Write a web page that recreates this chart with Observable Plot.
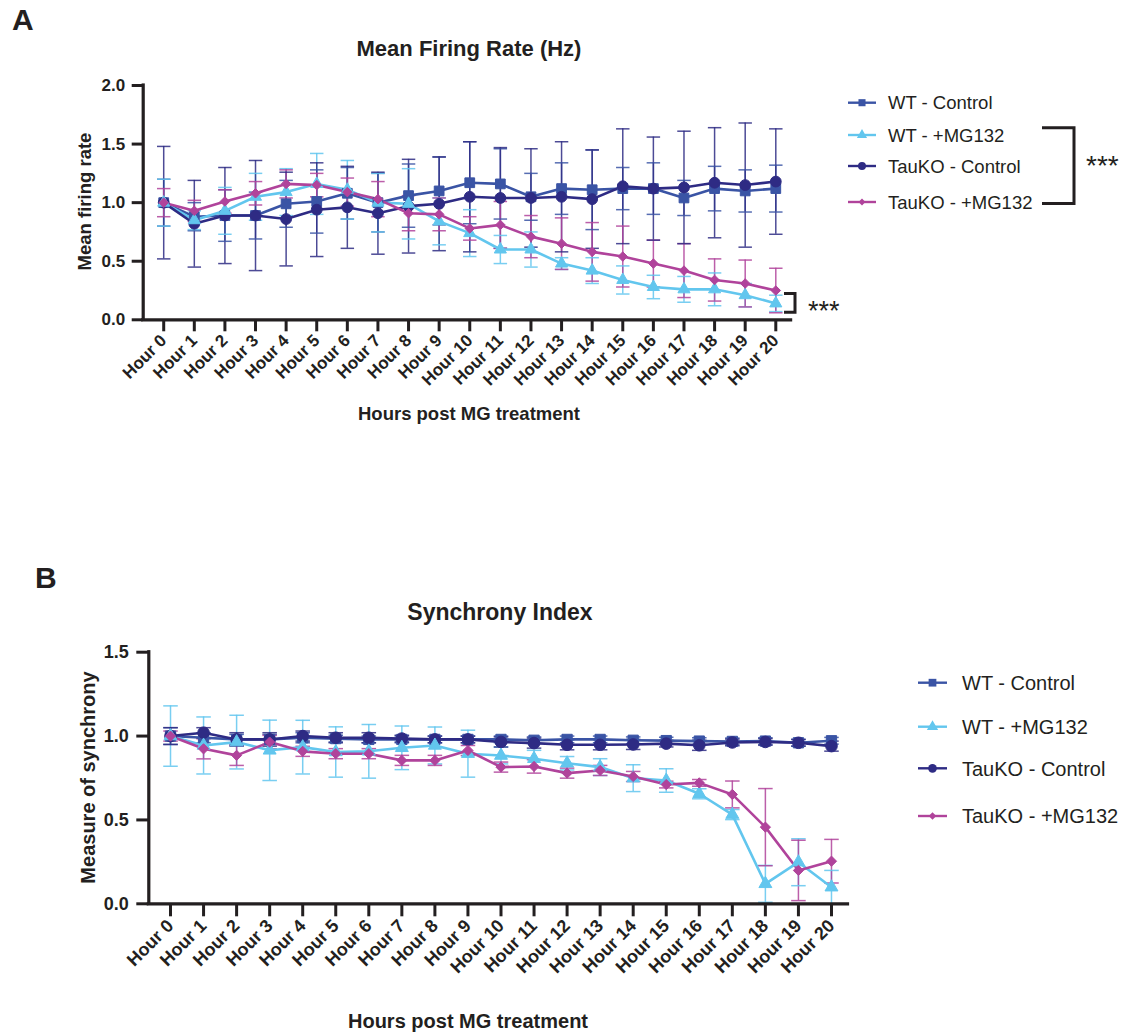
<!DOCTYPE html>
<html>
<head>
<meta charset="utf-8">
<script src="https://cdn.jsdelivr.net/npm/d3@7"></script>
<script src="https://cdn.jsdelivr.net/npm/@observablehq/plot@0.6"></script>
<style>
  body { margin: 0; background: #ffffff; }
  #root { position: relative; width: 1129px; height: 1034px; overflow: hidden; background: #ffffff;
          font-family: "Liberation Sans", Arial, sans-serif; }
  #root > svg { position: absolute; }
</style>
</head>
<body>
<div id="root"></div>
<script>
// ---------------- data ----------------
const hours = [0,1,2,3,4,5,6,7,8,9,10,11,12,13,14,15,16,17,18,19,20];
const hourLabels = ["Hour 0","Hour 1","Hour 2","Hour 3","Hour 4","Hour 5","Hour 6","Hour 7","Hour 8","Hour 9","Hour 10",
  "Hour 11","Hour 12","Hour 13","Hour 14","Hour 15","Hour 16","Hour 17","Hour 18","Hour 19","Hour 20"];
const seriesNames = ["WT - Control", "WT - +MG132", "TauKO - Control", "TauKO - +MG132"];

// Panel A: mean firing rate (normalised), mean and error
const wtCtrlA   = [1.00,0.88,0.89,0.89,0.99,1.01,1.08,1.00,1.06,1.10,1.17,1.16,1.05,1.12,1.11,1.12,1.12,1.04,1.12,1.10,1.12];
const wtMgA     = [1.00,0.85,0.93,1.05,1.09,1.16,1.11,1.00,0.99,0.84,0.74,0.60,0.60,0.48,0.42,0.34,0.28,0.26,0.26,0.21,0.14];
const tauCtrlA  = [1.00,0.82,0.89,0.89,0.86,0.94,0.96,0.91,0.97,0.99,1.05,1.04,1.04,1.05,1.03,1.14,1.12,1.13,1.17,1.15,1.18];
const tauMgA    = [1.00,0.93,1.01,1.08,1.16,1.15,1.09,1.03,0.91,0.90,0.78,0.81,0.71,0.65,0.58,0.54,0.48,0.42,0.34,0.31,0.25];
const wtCtrlErrA  = [0.20,0.12,0.22,0.20,0.20,0.27,0.22,0.25,0.27,0.29,0.35,0.30,0.20,0.22,0.34,0.18,0.22,0.15,0.19,0.18,0.20];
const wtMgErrA    = [0.20,0.08,0.20,0.20,0.20,0.26,0.25,0.25,0.30,0.20,0.20,0.12,0.15,0.05,0.11,0.12,0.10,0.11,0.14,0.10,0.07];
const tauCtrlErrA = [0.48,0.37,0.41,0.47,0.40,0.40,0.35,0.35,0.40,0.40,0.47,0.43,0.42,0.47,0.42,0.49,0.44,0.48,0.47,0.53,0.45];
const tauMgErrA   = [0.12,0.09,0.10,0.10,0.12,0.10,0.12,0.15,0.15,0.14,0.10,0.20,0.18,0.22,0.25,0.26,0.20,0.23,0.18,0.20,0.19];

// Panel B: synchrony index
const wtCtrlB   = [1.00,0.99,0.98,0.98,0.99,0.985,0.98,0.98,0.98,0.98,0.98,0.975,0.98,0.98,0.975,0.973,0.97,0.968,0.97,0.96,0.972];
const wtMgB     = [1.00,0.944,0.964,0.915,0.934,0.905,0.909,0.93,0.944,0.895,0.884,0.865,0.838,0.815,0.749,0.735,0.656,0.532,0.119,0.248,0.099];
const tauCtrlB  = [1.00,1.02,0.98,0.98,1.00,0.99,0.99,0.985,0.98,0.98,0.965,0.958,0.948,0.948,0.95,0.955,0.945,0.962,0.965,0.96,0.94];
const tauMgB    = [1.00,0.924,0.885,0.964,0.909,0.895,0.895,0.855,0.855,0.914,0.815,0.819,0.779,0.795,0.759,0.711,0.721,0.652,0.457,0.199,0.254];
const wtCtrlErrB  = [0.05,0.03,0.03,0.03,0.03,0.02,0.02,0.02,0.02,0.02,0.02,0.02,0.02,0.02,0.02,0.02,0.02,0.02,0.02,0.02,0.02];
const wtMgErrB    = [0.18,0.17,0.16,0.18,0.16,0.15,0.16,0.13,0.11,0.14,0.05,0.05,0.04,0.05,0.08,0.07,0.03,0.03,0.11,0.14,0.10];
const tauCtrlErrB = [0.05,0.03,0.04,0.04,0.03,0.03,0.03,0.02,0.02,0.02,0.03,0.03,0.03,0.03,0.03,0.02,0.03,0.02,0.02,0.02,0.03];
const tauMgErrB   = [0.03,0.06,0.06,0.04,0.03,0.03,0.03,0.03,0.03,0.03,0.03,0.04,0.03,0.03,0.03,0.02,0.02,0.08,0.23,0.18,0.13];

// ---------------- styles ----------------
const seriesColors  = ["#3a54a5", "#62c6ee", "#2e2b84", "#b0439b"];
const seriesSymbols = ["square", "triangle", "circle", "diamond2"];
const ink = "#231f20";
const fontFam = "'Liberation Sans', Arial, Helvetica, sans-serif";

function table(meansList, errsList) {
  const rows = [];
  seriesNames.forEach((name, s) => {
    hours.forEach((h, i) => {
      const v = meansList[s][i], e = errsList[s][i];
      rows.push({series: name, hour: h, value: v, lo: Math.max(0, v - e), hi: v + e});
    });
  });
  return rows;
}

const dataA = table([wtCtrlA, wtMgA, tauCtrlA, tauMgA], [wtCtrlErrA, wtMgErrA, tauCtrlErrA, tauMgErrA]);
const dataB = table([wtCtrlB, wtMgB, tauCtrlB, tauMgB], [wtCtrlErrB, wtMgErrB, tauCtrlErrB, tauMgErrB]);

function panel(o) {
  const cap = 0.22;
  const rBy = Object.fromEntries(seriesNames.map((n, i) => [n, o.sizes[i]]));
  return Plot.plot({
    width: o.width, height: o.height,
    marginLeft: o.marginLeft, marginRight: o.marginRight, marginTop: o.marginTop, marginBottom: o.marginBottom,
    style: {fontFamily: fontFam, fontSize: o.fontSize + "px", fontWeight: "bold", color: ink, background: "transparent", overflow: "visible"},
    x: {type: "linear", domain: o.xDomain},
    y: {domain: o.yDomain},
    color: {domain: seriesNames, range: seriesColors},
    symbol: {domain: seriesNames, range: seriesSymbols},
    r: {type: "identity"},
    marks: [
      Plot.ruleX(o.data, {x: "hour", y1: "lo", y2: "hi", stroke: "series", strokeWidth: 1.5, strokeOpacity: 0.85}),
      Plot.link(o.data, {x1: d => d.hour - cap, x2: d => d.hour + cap, y1: "hi", y2: "hi", stroke: "series", strokeWidth: 1.5, strokeOpacity: 0.85}),
      Plot.link(o.data, {x1: d => d.hour - cap, x2: d => d.hour + cap, y1: "lo", y2: "lo", stroke: "series", strokeWidth: 1.5, strokeOpacity: 0.85}),
      Plot.line(o.data, {x: "hour", y: "value", z: "series", stroke: "series", strokeWidth: 2.6}),
      Plot.dot(o.data, {x: "hour", y: "value", fill: "series", stroke: "series", symbol: "series", r: d => rBy[d.series], strokeWidth: 1}),
      Plot.ruleY([o.yDomain[0]], {stroke: ink, strokeWidth: 3.2, strokeLinecap: "square"}),
      Plot.ruleX([o.xDomain[0]], {stroke: ink, strokeWidth: 3.2, strokeLinecap: "square"}),
      Plot.axisY({ticks: o.yTicks, tickFormat: d3.format(".1f"), tickSize: o.tickSizeY, tickPadding: o.tickPadY,
        strokeWidth: 3, stroke: ink, fill: ink, label: null, fontSize: o.fontSize, fontWeight: "bold"}),
      Plot.axisX({ticks: hours, tickFormat: h => hourLabels[h], tickRotate: -45, tickSize: o.tickSizeX, tickPadding: o.tickPadX,
        strokeWidth: 3, stroke: ink, fill: ink, label: null, fontSize: o.fontSize, fontWeight: "bold"})
    ]
  });
}

const root = document.getElementById("root");

const svgA = panel({
  data: dataA, width: 830, height: 400,
  marginLeft: 142.7, marginRight: 39.4, marginTop: 85, marginBottom: 80.7,
  xDomain: [-0.67, 20.5], yDomain: [0, 2], yTicks: [0, 0.5, 1, 1.5, 2],
  fontSize: 17, tickSizeY: 11, tickPadY: 7, tickSizeX: 12, tickPadX: 6,
  sizes: [5.5, 4.5, 5.4, 4.3]
});
svgA.style.left = "0px"; svgA.style.top = "0px";
root.appendChild(svgA);

const svgB = panel({
  data: dataB, width: 870, height: 400,
  marginLeft: 148.3, marginRight: 22.5, marginTop: 51.7, marginBottom: 96.7,
  xDomain: [-0.657, 20.5], yDomain: [0, 1.5], yTicks: [0, 0.5, 1, 1.5],
  fontSize: 18, tickSizeY: 12, tickPadY: 8, tickSizeX: 13, tickPadX: 6,
  sizes: [5.8, 4.8, 5.8, 4.6]
});
svgB.style.left = "0px"; svgB.style.top = "600px";
root.appendChild(svgB);

// ---------------- titles, labels, legends, annotations ----------------
const ov = d3.select(root).append("svg")
  .attr("width", 1129).attr("height", 1034)
  .style("left", "0px").style("top", "0px")
  .style("font-family", fontFam).style("pointer-events", "none");

function txt(x, y, s, size, weight, anchor, rotate) {
  const t = ov.append("text").attr("x", x).attr("y", y).text(s)
    .attr("font-size", size).attr("font-weight", weight || "normal")
    .attr("text-anchor", anchor || "start").attr("fill", ink);
  if (rotate) t.attr("transform", `rotate(${rotate},${x},${y})`);
  return t;
}

// Panel A
txt(12, 30, "A", 30, "bold");
txt(469, 56, "Mean Firing Rate (Hz)", 22, "bold", "middle");
txt(91, 201.5, "Mean firing rate", 18.5, "bold", "middle", -90);
txt(469, 420, "Hours post MG treatment", 18.5, "bold", "middle");

// Panel B
txt(35, 588, "B", 30, "bold");
txt(500, 620, "Synchrony Index", 23, "bold", "middle");
txt(95, 777.5, "Measure of synchrony", 20, "bold", "middle", -90);
txt(468, 1028, "Hours post MG treatment", 20, "bold", "middle");

const symbolTypes = {square: d3.symbolSquare, triangle: d3.symbolTriangle, circle: d3.symbolCircle, diamond2: d3.symbolDiamond2};

function legend(x0, x1, tx, ys, size, symSize) {
  seriesNames.forEach((name, i) => {
    const y = ys[i];
    ov.append("line").attr("x1", x0).attr("x2", x1).attr("y1", y).attr("y2", y)
      .attr("stroke", seriesColors[i]).attr("stroke-width", 2.4);
    ov.append("path").attr("transform", `translate(${(x0 + x1) / 2},${y})`)
      .attr("d", d3.symbol(symbolTypes[seriesSymbols[i]], symSize[i])())
      .attr("fill", seriesColors[i]);
    txt(tx, y + size * 0.36, name, size, "normal");
  });
}
legend(848, 876, 888, [102.7, 135, 166, 202], 18.5, [50, 45, 50, 30]);
legend(918, 947, 962, [682.7, 726.7, 768.3, 816], 20, [60, 55, 60, 36]);

// significance brackets
ov.append("path").attr("d", "M1042,127.7H1074V203.5H1042").attr("fill", "none").attr("stroke", ink).attr("stroke-width", 3);
txt(1086, 175, "***", 28, "normal");
ov.append("path").attr("d", "M784,293.5H795V312.3H784").attr("fill", "none").attr("stroke", ink).attr("stroke-width", 3);
txt(808, 320, "***", 27, "normal");
</script>
</body>
</html>
